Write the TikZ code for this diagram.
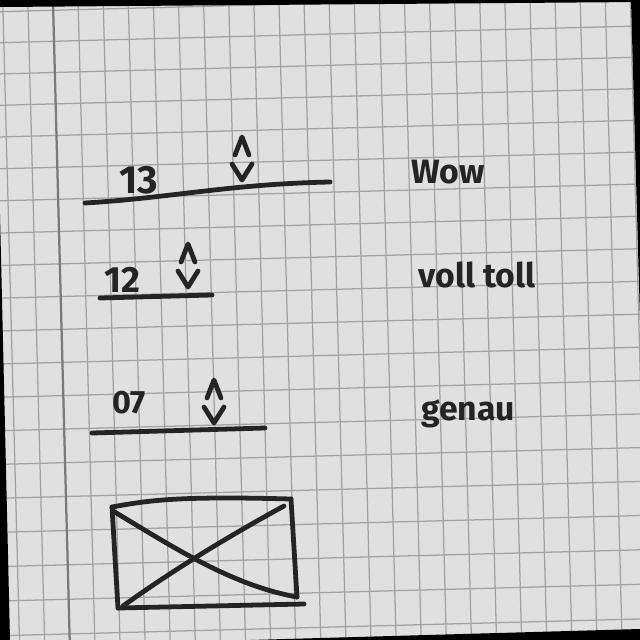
\documentclass[tikz,border=0pt]{standalone}
\usepackage{fontspec}
\setmainfont{Fira Sans}
\usepackage{xcolor}
\definecolor{cPaper}{HTML}{E0E0E0}
\definecolor{cGrid}{HTML}{A2A2A2}
\definecolor{cMargin}{HTML}{7A7A7A}
\definecolor{cInk}{HTML}{242424}
\usepackage{tikz}
\tikzset{
  ink-line/.style={draw=cInk,line width=3.4pt,line cap=round,line join=round},
  grid-line/.style={draw=cGrid,line width=0.9pt},
  margin-line/.style={draw=cMargin,line width=1.6pt},
  field-num/.style={anchor=base west,inner sep=0pt,text=cInk,
    font=\bfseries\fontsize{#1}{#1}\selectfont},
  field-label/.style={anchor=base west,inner sep=0pt,text=cInk,
    font=\bfseries\fontsize{24}{24}\selectfont},
  % ^ ueber v, Mitte am Ursprung
  spinner/.pic={
    \draw[ink-line] (-7,-5) -- (0,-23) -- (7,-5);
    \draw[ink-line] (-10,4) -- (0,20) -- (10,4);
  },
}

\begin{document}
\begin{tikzpicture}[x=0.025cm,y=-0.025cm]
  \useasboundingbox (0,0) rectangle (640,640);
  \fill[cPaper] (0,0) rectangle (640,640);
  % Karopapier, leicht gedreht
  \begin{scope}
    \clip (0,0) rectangle (640,640);
    \begin{scope}[rotate around={1.5:(320,320)}]
      \foreach \i in {-3,...,27}
        \draw[grid-line] ({11.2+25.1*\i},-60) -- ({11.2+25.1*\i},700);
      \foreach \j in {-3,...,21} {
        \pgfmathsetmacro\yy{34.4+31.1*\j+0.102*\j*\j}
        \draw[grid-line] (-60,\yy) -- (700,\yy);
      }
      \draw[margin-line] (61.4,-60) -- (61.4,700);
    \end{scope}
    \fill[black] (0,0) -- (640,0) -- (640,2) -- (0,7) -- cycle;
    \fill[black] (250,640) -- (640,629) -- (640,640) -- cycle;
    \fill[black] (0,214) -- (10,640) -- (0,640) -- cycle;
    \fill[black] (631,0) -- (640,0) -- (640,320) -- cycle;
  \end{scope}

  % Feld 1
  \node[field-num=28] (n13) at (119,193) {13};
  \pic at (242,160) {spinner};
  \coordinate (u13a) at (85,203);
  \coordinate (u13b) at (330,182);
  \draw[ink-line] (u13a) .. controls (170,198) and (230,184) .. (u13b);
  \node[field-label] (lWow) at (411,183) {Wow};

  % Feld 2
  \node[field-num=26] (n12) at (104,292) {12};
  \pic at (188,267) {spinner};
  \coordinate (u12a) at (100,298);
  \coordinate (u12b) at (212,295);
  \draw[ink-line] (u12a) -- (u12b);
  \node[field-label] (lVoll) at (418,287) {voll toll};

  % Feld 3
  \node[field-num=23] (n07) at (112,413) {07};
  \pic at (214,403) {spinner};
  \coordinate (u07a) at (92,433);
  \coordinate (u07b) at (265,428);
  \draw[ink-line] (u07a) -- (u07b);
  \node[field-label] (lGenau) at (421,420) {genau};

  % Bildplatzhalter
  \coordinate (imgTL) at (112,507);
  \coordinate (imgTR) at (291,499);
  \coordinate (imgBR) at (297,597);
  \coordinate (imgBL) at (118,608);
  \draw[ink-line] (imgTL) .. controls (150,500) and (180,496) .. (imgTR);
  \draw[ink-line] (imgTR) -- (imgBR);
  \draw[ink-line] (imgBL) -- (304,604);
  \draw[ink-line] (imgTL) -- (imgBL);
  \draw[ink-line] (113,511) .. controls (170,545) and (230,585) .. (imgBR);
  \draw[ink-line] (123,606) .. controls (180,565) and (240,530) .. (284,506);
\end{tikzpicture}
\end{document}
